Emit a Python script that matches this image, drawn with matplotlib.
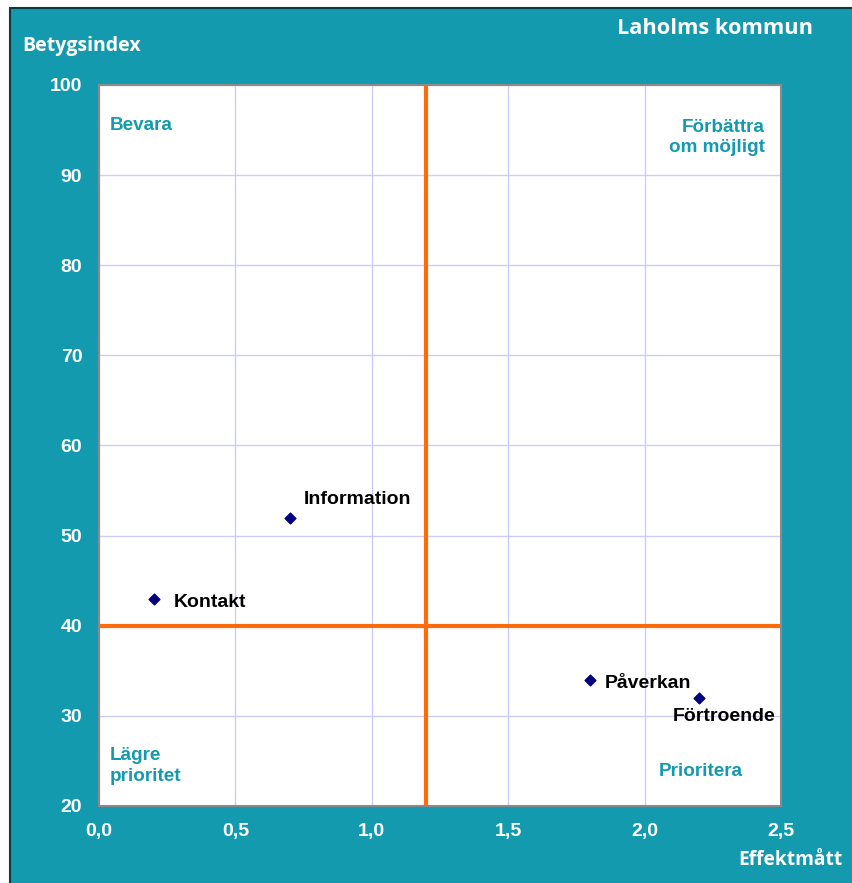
import matplotlib
matplotlib.use("Agg")
import matplotlib.pyplot as plt
from matplotlib.patches import Rectangle

labels = ["Information", "Kontakt", "Påverkan", "Förtroende"]
effekt = [0.7, 0.2, 1.8, 2.2]
betyg = [52, 43, 34, 32]
label_offsets = [(14, 18), (20, -4), (15, -4), (25, -19)]
label_ha = ["left", "left", "left", "center"]

x_ticks = [0.0, 0.5, 1.0, 1.5, 2.0, 2.5]
x_ticklabels = ["0,0", "0,5", "1,0", "1,5", "2,0", "2,5"]
y_ticks = [20, 30, 40, 50, 60, 70, 80, 90, 100]
x_split = 1.2
y_split = 40

TEAL = "#149aaf"
W, H = 852, 883
fig = plt.figure(figsize=(W/100, H/100), dpi=100, facecolor="white")

# teal background frame in a background axes
bg = fig.add_axes([0, 0, 1, 1], zorder=-10)
bg.set_axis_off()
bg.set_xlim(0, W)
bg.set_ylim(H, 0)
bg.add_patch(Rectangle((10, 8), W - 10 + 5, H - 8 + 5, facecolor=TEAL,
                       edgecolor="#0b3a40", linewidth=1.5))

ax = fig.add_axes([99/W, 1 - 806/H, (781-99)/W, (806-85)/H], zorder=1)
ax.set_facecolor("white")
ax.set_xlim(0, 2.5)
ax.set_ylim(20, 100)
ax.set_xticks(x_ticks)
ax.set_xticklabels(x_ticklabels)
ax.set_yticks(y_ticks)
ax.grid(True, color="#ccccf5", linewidth=1.0, zorder=0)
ax.set_axisbelow(True)
for s in ax.spines.values():
    s.set_color("#8a8a8a")
    s.set_linewidth(1.5)
ax.tick_params(length=0, colors="white", labelsize=14)
ax.tick_params(axis="y", pad=12)
ax.tick_params(axis="x", pad=12)
for t in ax.get_xticklabels() + ax.get_yticklabels():
    t.set_fontweight("bold")
    t.set_fontfamily("Liberation Sans")

ax.axvline(x_split, color="#ff6a0a", linewidth=3, zorder=2)
ax.axhline(y_split, color="#ff6a0a", linewidth=3, zorder=2)

ax.scatter(effekt, betyg, marker="D", s=30, color="#000080", zorder=3)
for lab, x, y, off, ha in zip(labels, effekt, betyg, label_offsets, label_ha):
    ax.annotate(lab, (x, y), xytext=off, textcoords="offset pixels", ha=ha, va="center",
                fontsize=14, fontweight="bold", family="Liberation Sans", color="black", zorder=4)

qkw = dict(transform=fig.transFigure, fontsize=13.6, fontweight="bold",
           family="Liberation Sans", color=TEAL, linespacing=1.3, zorder=5)
fig.text(110/W, 1 - 125/H, "Bevara", ha="left", va="center", **qkw)
fig.text(765/W, 1 - 137.5/H, "Förbättra\nom möjligt", ha="right", va="center", multialignment="right", **qkw)
fig.text(110/W, 1 - 766/H, "Lägre\nprioritet", ha="left", va="center", **qkw)
fig.text(701/W, 1 - 771/H, "Prioritera", ha="center", va="center", **qkw)

hkw = dict(transform=fig.transFigure, fontweight="bold", family="Open Sans", color="white", zorder=5)
fig.text(22/W, 1 - 46/H, "Betygsindex", ha="left", va="center", fontsize=14, **hkw)
fig.text(813/W, 1 - 29/H, "Laholms kommun", ha="right", va="center", fontsize=15.7, **hkw)
fig.text(842/W, 1 - 860/H, "Effektmått", ha="right", va="center", fontsize=13.8, **hkw)

fig.savefig("out.png", dpi=100, facecolor="white")
